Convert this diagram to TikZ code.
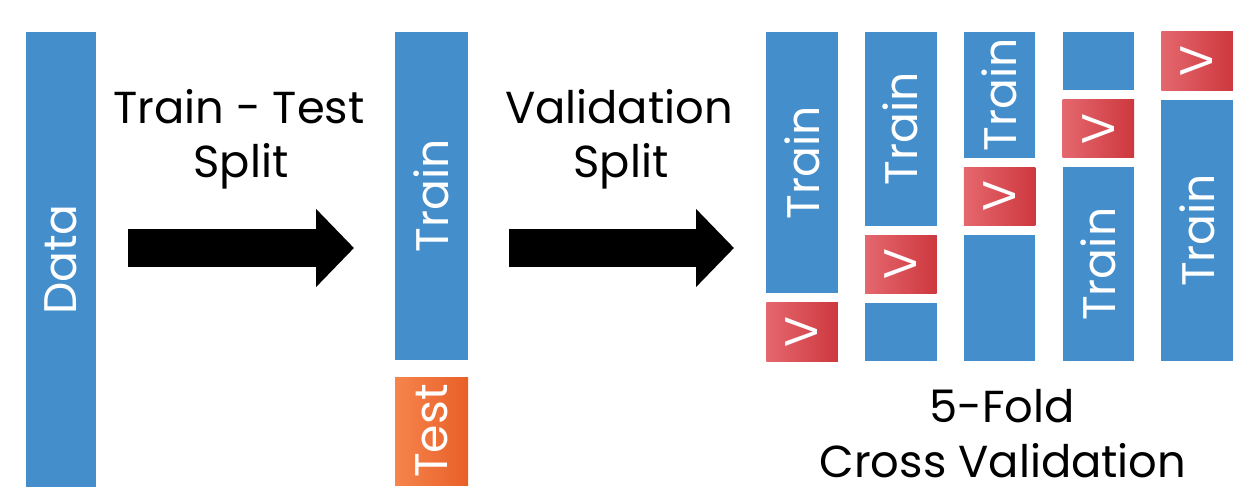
\documentclass[tikz,border=0pt]{standalone}
\usepackage{fontspec}
\setmainfont{Poppins}
\usetikzlibrary{arrows.meta}
\definecolor{blockblue}{RGB}{68,142,204}
\definecolor{vlight}{RGB}{228,104,110}
\definecolor{vdark}{RGB}{205,56,62}
\definecolor{tlight}{RGB}{246,132,76}
\definecolor{tdark}{RGB}{232,96,40}

\begin{document}
\begin{tikzpicture}[
    >=Stealth,
    blk/.style={fill=blockblue, minimum width=1.43cm, inner sep=0pt,
                text=white, font=\fontsize{26}{30}\selectfont},
    val/.style={blk, left color=vlight, right color=vdark},
    tst/.style={blk, left color=tlight, right color=tdark},
    bigarrow/.style={line width=7.6mm, -{Triangle[length=7.6mm, width=15.2mm]}},
    lbl/.style={anchor=base, font=\fontsize{25.5}{30}\selectfont}
  ]
  \useasboundingbox (0,0) rectangle (25.16,9.92);

  % Data
  \node[blk, minimum width=1.4cm, minimum height=9.1cm] (data) at (1.22, 4.73) {\rotatebox{90}{Data}};

  % Train / Test
  \node[blk, minimum width=1.46cm, minimum height=6.56cm] (train) at (8.63, 6.0) {\rotatebox{90}{Train}};
  \node[tst, minimum width=1.46cm, minimum height=2.16cm] (test) at (8.63, 1.3) {\rotatebox{90}{Test}};

  % Arrows
  \coordinate (a1from) at (2.56, 4.96);
  \coordinate (a1to) at (7.08, 4.96);
  \coordinate (a2from) at (10.18, 4.96);
  \coordinate (a2to) at (14.68, 4.96);
  \draw[bigarrow] (a1from) -- (a1to);
  \draw[bigarrow] (a2from) -- (a2to);

  \node[lbl] (tts1) at (4.78, 7.46) {Train - Test};
  \node[lbl] (tts2) at (4.82, 6.38) {Split};
  \node[lbl] (vs1) at (12.38, 7.46) {Validation};
  \node[lbl] (vs2) at (12.42, 6.38) {Split};

  % Fold 1
  \node[blk, minimum height=5.226cm] (f1t) at (16.04, 6.667) {\rotatebox{90}{Train}};
  \node[val, minimum height=1.164cm] (f1v) at (16.04, 3.282) {\rotatebox{90}{V}};

  % Fold 2
  \node[blk, minimum height=3.872cm] (f2t) at (18.015, 7.344) {\rotatebox{90}{Train}};
  \node[val, minimum height=1.164cm] (f2v) at (18.015, 4.636) {\rotatebox{90}{V}};
  \node[blk, minimum height=1.164cm] (f2b) at (18.015, 3.282) {};

  % Fold 3
  \node[blk, minimum height=2.518cm] (f3t) at (19.99, 8.021) {\rotatebox{90}{Train}};
  \node[val, minimum height=1.164cm] (f3v) at (19.99, 5.99) {\rotatebox{90}{V}};
  \node[blk, minimum height=2.518cm] (f3b) at (19.99, 3.959) {};

  % Fold 4
  \node[blk, minimum height=1.164cm] (f4b) at (21.965, 8.698) {};
  \node[val, minimum height=1.164cm] (f4v) at (21.965, 7.344) {\rotatebox{90}{V}};
  \node[blk, minimum height=3.872cm] (f4t) at (21.965, 4.636) {\rotatebox{90}{Train}};

  % Fold 5
  \node[val, minimum height=1.164cm] (f5v) at (23.94, 8.698) {\rotatebox{90}{V}};
  \node[blk, minimum height=5.226cm] (f5t) at (23.94, 5.313) {\rotatebox{90}{Train}};

  \node[lbl] (cv1) at (20.04, 1.48) {5-Fold};
  \node[lbl] (cv2) at (20.06, 0.38) {Cross Validation};
\end{tikzpicture}
\end{document}
